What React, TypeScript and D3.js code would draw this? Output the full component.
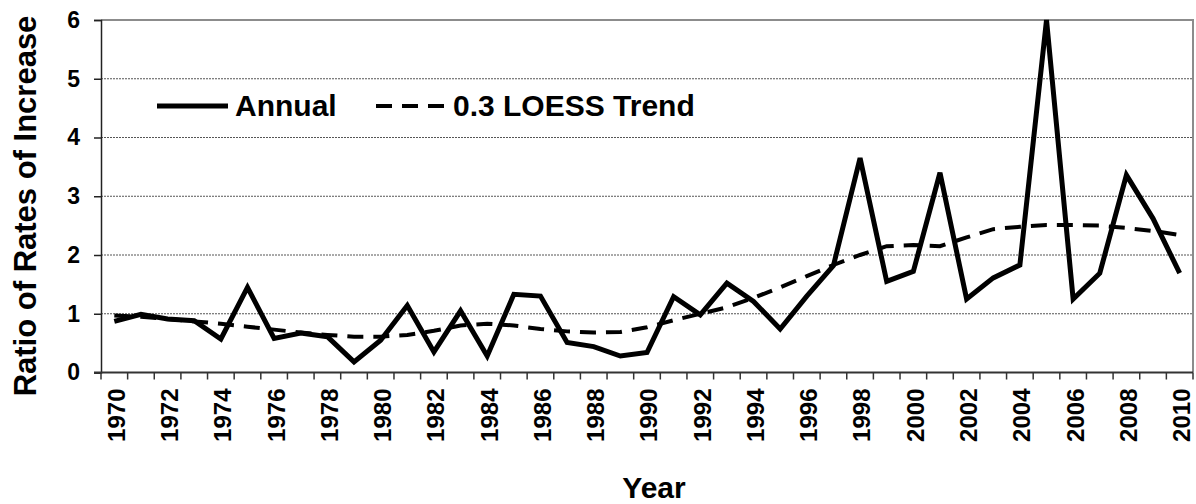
// Dependencies
import React, { useRef, useEffect } from "react";
import * as d3 from "d3";

const years: number[] = [
  1970, 1971, 1972, 1973, 1974, 1975, 1976, 1977, 1978, 1979, 1980, 1981, 1982,
  1983, 1984, 1985, 1986, 1987, 1988, 1989, 1990, 1991, 1992, 1993, 1994, 1995,
  1996, 1997, 1998, 1999, 2000, 2001, 2002, 2003, 2004, 2005, 2006, 2007, 2008,
  2009, 2010,
];

const annual: number[] = [
  0.87, 0.99, 0.91, 0.88, 0.57, 1.45, 0.58, 0.67, 0.61, 0.18, 0.55, 1.14, 0.35,
  1.05, 0.28, 1.33, 1.3, 0.51, 0.44, 0.28, 0.34, 1.29, 0.98, 1.52, 1.21, 0.74,
  1.3, 1.82, 3.65, 1.55, 1.72, 3.4, 1.25, 1.61, 1.83, 6.0, 1.25, 1.69, 3.36,
  2.62, 1.69,
];

const loess: number[] = [
  0.97, 0.95, 0.91, 0.87, 0.83, 0.78, 0.73, 0.68, 0.64, 0.61, 0.61, 0.64, 0.71,
  0.8, 0.83, 0.8, 0.74, 0.7, 0.68, 0.69, 0.77, 0.89, 1.0, 1.11, 1.27, 1.45,
  1.64, 1.83, 2.0, 2.15, 2.17, 2.15, 2.3, 2.44, 2.48, 2.51, 2.51, 2.5, 2.46,
  2.41, 2.34,
];

const yTicks: number[] = [0, 1, 2, 3, 4, 5, 6];
const xLabelYears: number[] = years.filter((y) => (y - 1970) % 2 === 0);

const WIDTH = 1196;
const HEIGHT = 504;
const FONT = "'Liberation Sans', Arial, sans-serif";

const Chart: React.FC = () => {
  const svgRef = useRef<SVGSVGElement | null>(null);

  useEffect(() => {
    if (!svgRef.current) return;
    const root = d3.select(svgRef.current);
    root.selectAll("*").remove();

    const left = 101;
    const right = 1193;
    const top = 20;
    const bottom = 372.5;

    const x = d3
      .scaleBand<number>()
      .domain(years)
      .range([left, right])
      .paddingInner(0)
      .paddingOuter(0);
    const y = d3.scaleLinear().domain([0, 6]).range([bottom, top]);
    const cx = (yr: number) => x(yr)! + x.bandwidth() / 2;

    const svg = root.append("g");

    // Gridlines
    svg
      .append("g")
      .selectAll("line")
      .data(yTicks.filter((t) => t > 0 && t < 6))
      .enter()
      .append("line")
      .attr("x1", left)
      .attr("x2", right)
      .attr("y1", (d) => y(d))
      .attr("y2", (d) => y(d))
      .attr("stroke", "#555")
      .attr("stroke-width", 1)
      .attr("stroke-dasharray", "2 1");

    // Plot border (top / right)
    svg
      .append("path")
      .attr("d", `M${left},${top}H${right}V${bottom}`)
      .attr("fill", "none")
      .attr("stroke", "#8c8c8c")
      .attr("stroke-width", 2);

    // Y axis
    const yAxis = svg
      .append("g")
      .attr("transform", `translate(${left},0)`)
      .call(
        d3
          .axisLeft(y)
          .tickValues(yTicks)
          .tickFormat(d3.format("d"))
          .tickSize(7)
          .tickPadding(14)
      );
    yAxis.select(".domain").attr("stroke", "#222").attr("stroke-width", 1.5);
    yAxis.selectAll(".tick line").attr("stroke", "#222").attr("stroke-width", 1.5);
    yAxis
      .selectAll(".tick text")
      .attr("font-family", FONT)
      .attr("font-weight", "bold")
      .attr("font-size", 23)
      .attr("fill", "#000");

    // X axis: ticks on category boundaries
    const bounds = years.map((yr) => x(yr)!).concat([right]);
    const xAxis = svg.append("g");
    xAxis
      .append("line")
      .attr("x1", left - 7)
      .attr("x2", right)
      .attr("y1", bottom)
      .attr("y2", bottom)
      .attr("stroke", "#333")
      .attr("stroke-width", 2);
    xAxis
      .selectAll(".xt")
      .data(bounds)
      .enter()
      .append("line")
      .attr("class", "xt")
      .attr("x1", (d) => d)
      .attr("x2", (d) => d)
      .attr("y1", bottom)
      .attr("y2", bottom + 7)
      .attr("stroke", "#333")
      .attr("stroke-width", 1.5);
    xAxis
      .selectAll(".xl")
      .data(xLabelYears)
      .enter()
      .append("text")
      .attr("class", "xl")
      .attr("transform", (d) => `translate(${cx(d) + 2},${bottom + 16}) rotate(-90)`)
      .attr("text-anchor", "end")
      .attr("dy", "0.35em")
      .attr("font-family", FONT)
      .attr("font-weight", "bold")
      .attr("font-size", 24)
      .text((d) => String(d));

    // Series
    const lineGen = d3
      .line<number>()
      .x((_d, i) => cx(years[i]))
      .y((d) => y(d));

    svg
      .append("path")
      .datum(loess)
      .attr("d", lineGen)
      .attr("fill", "none")
      .attr("stroke", "#000")
      .attr("stroke-width", 4)
      .attr("stroke-dasharray", "16 10");

    svg
      .append("path")
      .datum(annual)
      .attr("d", lineGen)
      .attr("fill", "none")
      .attr("stroke", "#000")
      .attr("stroke-width", 5)
      .attr("stroke-linejoin", "miter");

    // Axis titles
    svg
      .append("text")
      .attr("transform", `translate(36,${206}) rotate(-90)`)
      .attr("text-anchor", "middle")
      .attr("font-family", FONT)
      .attr("font-weight", "bold")
      .attr("font-size", 31)
      .text("Ratio of Rates of Increase");
    svg
      .append("text")
      .attr("x", 654)
      .attr("y", 498)
      .attr("text-anchor", "middle")
      .attr("font-family", FONT)
      .attr("font-weight", "bold")
      .attr("font-size", 30)
      .text("Year");

    // Legend
    const legend = svg.append("g");
    legend
      .append("line")
      .attr("x1", 157)
      .attr("x2", 228)
      .attr("y1", 106)
      .attr("y2", 106)
      .attr("stroke", "#000")
      .attr("stroke-width", 5);
    legend
      .append("text")
      .attr("x", 235)
      .attr("y", 116)
      .attr("font-family", FONT)
      .attr("font-weight", "bold")
      .attr("font-size", 30)
      .text("Annual");
    legend
      .append("line")
      .attr("x1", 376)
      .attr("x2", 448)
      .attr("y1", 106)
      .attr("y2", 106)
      .attr("stroke", "#000")
      .attr("stroke-width", 4)
      .attr("stroke-dasharray", "16 10");
    legend
      .append("text")
      .attr("x", 453)
      .attr("y", 116)
      .attr("font-family", FONT)
      .attr("font-weight", "bold")
      .attr("font-size", 30)
      .text("0.3 LOESS Trend");

    return () => {
      root.selectAll("*").remove();
    };
  }, []);

  return (
    <svg
      ref={svgRef}
      width={WIDTH}
      height={HEIGHT}
      style={{ position: "absolute", left: 0, top: 0, background: "#fff" }}
    />
  );
};

export default function App() {
  return <Chart />;
}
